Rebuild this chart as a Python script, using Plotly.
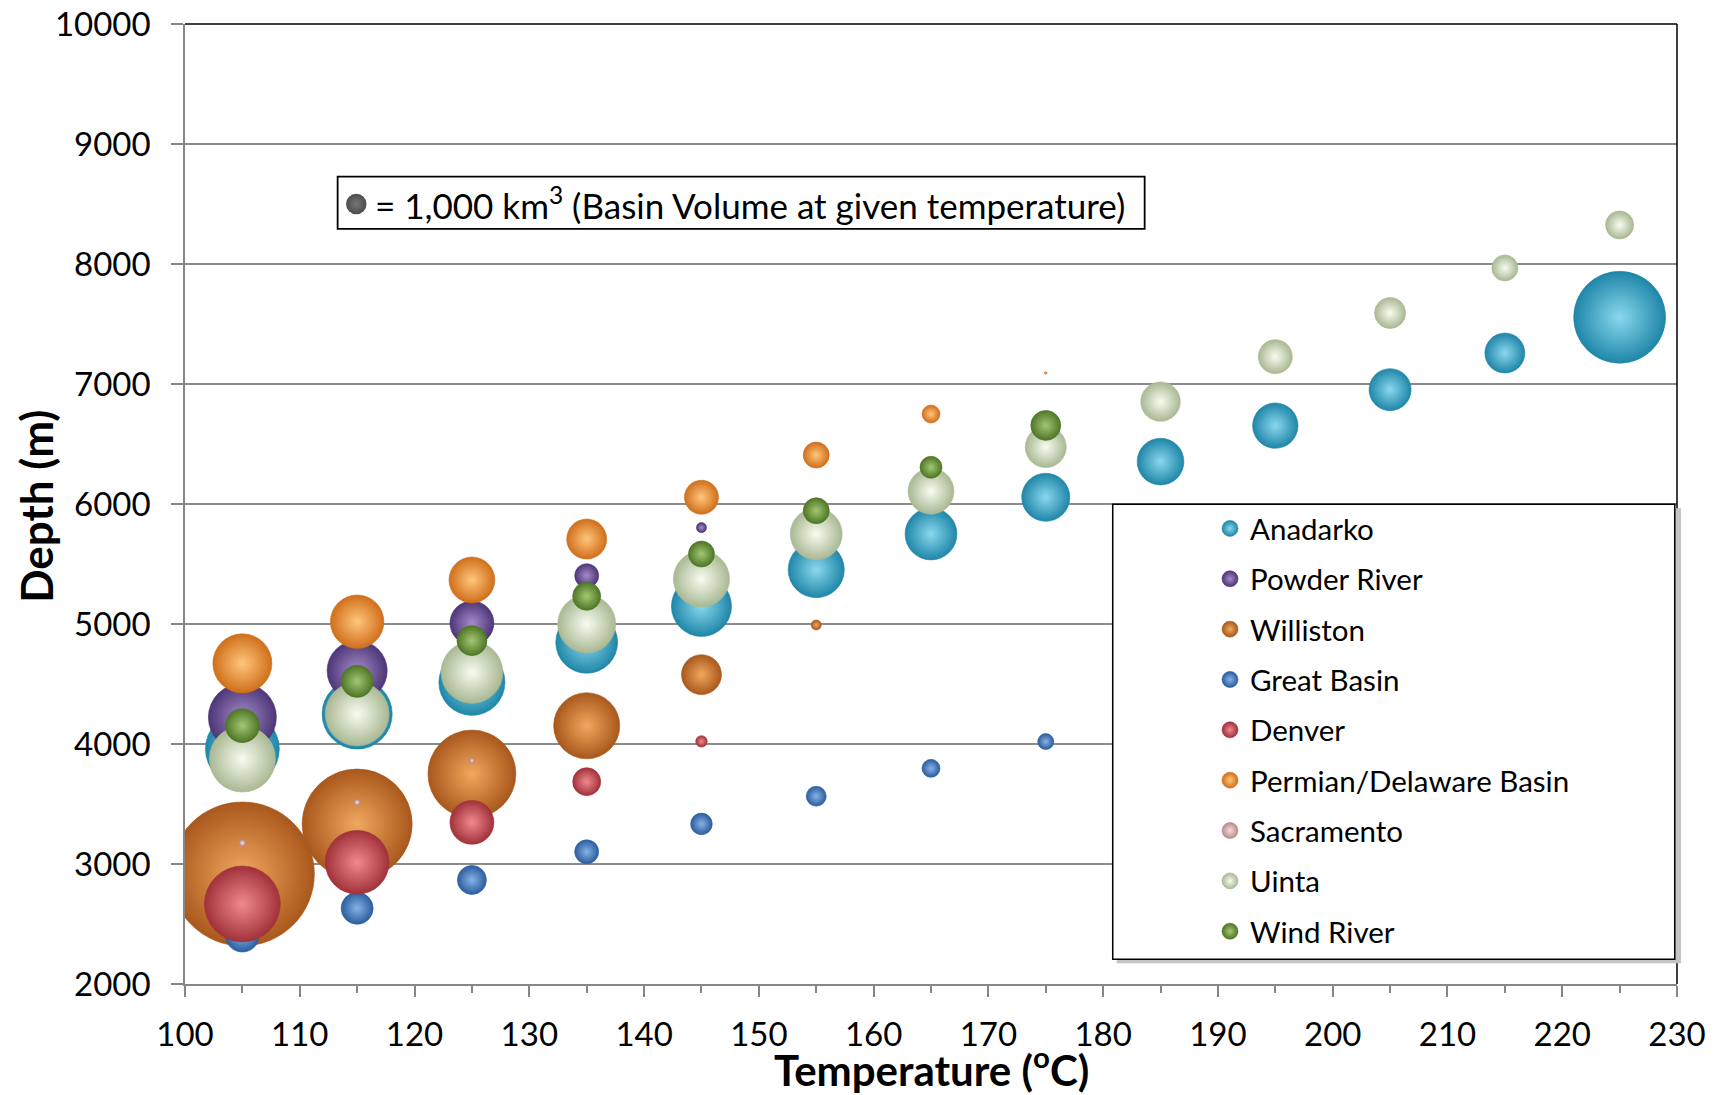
import plotly.graph_objects as go

# ---------------- data ----------------
TEMPS = [105, 115, 125, 135, 145, 155, 165, 175, 185, 195, 205, 215, 225]

SERIES = ["Anadarko", "Powder River", "Williston", "Great Basin", "Denver",
          "Permian/Delaware Basin", "Sacramento", "Uinta", "Wind River"]

anadarko_depth = [3958, 4250, 4514, 4847, 5147, 5453, 5750, 6056, 6353, 6653, 6953, 7258, 7556]
anadarko_vol = [13000, 11700, 10400, 9100, 8600, 7500, 6400, 5500, 5200, 4900, 4200, 3800, 20100]

powder_depth = [4222, 4611, 5008, 5403, 5803]
powder_vol = [11000, 8600, 4600, 1370, 240]

williston_depth = [2917, 3333, 3750, 4152, 4578, 4992]
williston_vol = [49300, 28800, 18400, 10400, 3800, 240]

greatbasin_depth = [2408, 2631, 2867, 3102, 3334, 3565, 3797, 4020]
greatbasin_vol = [2750, 2440, 2000, 1370, 1110, 950, 770, 610]

denver_depth = [2667, 3014, 3347, 3686, 4022]
denver_vol = [13700, 9700, 4600, 1870, 310]

permian_depth = [4672, 5019, 5367, 5708, 6056, 6408, 6750, 7092]
permian_vol = [8300, 6800, 5000, 3800, 2750, 1610, 770, 15]

sacramento_depth = [3175, 3514, 3861]
sacramento_vol = [104, 86, 60]

uinta_depth = [3875, 4250, 4597, 5000, 5375, 5750, 6106, 6475, 6853, 7228, 7592, 7967, 8325]
uinta_vol = [10400, 9700, 9100, 8000, 7500, 6400, 5000, 4000, 3700, 2750, 2290, 1610, 1870]

windriver_depth = [4153, 4522, 4861, 5231, 5583, 5944, 6306, 6655]
windriver_vol = [2750, 2440, 2140, 1870, 1610, 1610, 1150, 2140]

DEPTHS = [anadarko_depth, powder_depth, williston_depth, greatbasin_depth, denver_depth,
          permian_depth, sacramento_depth, uinta_depth, windriver_depth]
VOLUMES = [anadarko_vol, powder_vol, williston_vol, greatbasin_vol, denver_vol,
           permian_vol, sacramento_vol, uinta_vol, windriver_vol]

KEY_VOLUME = 1000  # km3 reference bubble
X_TICKS = list(range(100, 231, 10))
Y_TICKS = list(range(2000, 10001, 1000))
X_LABELS = [str(v) for v in X_TICKS]
Y_LABELS = [str(v) for v in Y_TICKS]

# ---------------- style ----------------
# (edge colour, highlight colour) per series
COLORS = [
    ("#1f86a8", "#8ad8ee"),  # Anadarko
    ("#4e3577", "#a48cc8"),  # Powder River
    ("#a9581c", "#f0a85e"),  # Williston
    ("#2b5d9e", "#86b2e6"),  # Great Basin
    ("#a1313a", "#f08a8f"),  # Denver
    ("#d06f1c", "#ffc67a"),  # Permian
    ("#b98a8e", "#f6dcdd"),  # Sacramento
    ("#a9b893", "#f8fcf0"),  # Uinta
    ("#4f7626", "#a2c873"),  # Wind River
]
FONT = "Lato, 'Open Sans', sans-serif"
KEY_DIAM_PX = 20.5
# plotly area mode: diameter = 2*sqrt(v / (2*sizeref))
SIZEREF = 2.0 * KEY_VOLUME / KEY_DIAM_PX ** 2

fig = go.Figure()
for name, ys, vols, (edge, hi) in zip(SERIES, DEPTHS, VOLUMES, COLORS):
    fig.add_trace(go.Scatter(
        x=TEMPS[:len(ys)], y=ys, mode="markers", name=name, legendgroup=name,
        marker=dict(size=vols, sizemode="area", sizeref=SIZEREF, sizemin=0,
                    color=edge, opacity=1,
                    gradient=dict(type="radial", color=hi),
                    line=dict(width=0.6, color=edge)),
        hoverinfo="x+y+name",
    ))

# key bubble (1,000 km3) on an overlay paper-like axis
KEY_POS = (0.1148, 0.8125)
fig.add_trace(go.Scatter(
    x=[KEY_POS[0]], y=[KEY_POS[1]], xaxis="x2", yaxis="y2", mode="markers",
    showlegend=False, hoverinfo="skip",
    marker=dict(size=[KEY_VOLUME], sizemode="area", sizeref=SIZEREF,
                color="#000000", gradient=dict(type="radial", color="#3c3c3c"),
                line=dict(width=0)),
))

GRID = "#8c8c8c"
AXIS = "#868686"

fig.update_layout(
    width=1719, height=1095,
    margin=dict(l=185, r=42, t=24, b=111, autoexpand=False),
    paper_bgcolor="white", plot_bgcolor="white",
    font=dict(family=FONT, color="black", size=33),
    xaxis=dict(range=[100, 230], tickvals=X_TICKS, ticktext=X_LABELS, showgrid=False,
               zeroline=False, automargin=False, ticklabeloverflow="allow",
               showline=True, linecolor=AXIS, linewidth=1.5,
               ticks="outside", ticklen=11, tickwidth=1.5, tickcolor=AXIS,
               minor=dict(ticks="outside", ticklen=7, tickwidth=1.5, tickcolor=AXIS,
                          dtick=5, tick0=100, showgrid=False),
               tickfont=dict(size=33, family=FONT), ticklabelstandoff=10),
    yaxis=dict(range=[2000, 10000], tickvals=Y_TICKS, ticktext=Y_LABELS, showgrid=True,
               gridcolor=GRID, automargin=False, ticklabeloverflow="allow",
               gridwidth=1.5, zeroline=False, showline=True, linecolor=AXIS, linewidth=1.5,
               ticks="outside", ticklen=12, tickwidth=1.5, tickcolor=AXIS,
               tickfont=dict(size=33, family=FONT), ticklabelstandoff=14),
    xaxis2=dict(overlaying="x", range=[0, 1], visible=False, fixedrange=True),
    yaxis2=dict(overlaying="y", range=[0, 1], visible=False, fixedrange=True),
    showlegend=True,
    legend=dict(x=0.687, y=0.5013, xanchor="left", yanchor="top",
                bgcolor="rgba(0,0,0,0)", borderwidth=0,
                font=dict(size=29.5, family=FONT), traceorder="grouped",
                tracegroupgap=9, itemsizing="trace"),
    shapes=[
        # top and right frame lines
        dict(type="line", xref="x domain", yref="y domain", x0=0, x1=1, y0=1, y1=1,
             line=dict(color="black", width=1.5)),
        dict(type="line", xref="x domain", yref="y domain", x0=1, x1=1, y0=0, y1=1,
             line=dict(color="black", width=1.5)),
        # key box
        dict(type="rect", xref="x domain", yref="y domain", x0=0.1023, x1=0.6432,
             y0=0.7865, y1=0.8411, line=dict(color="black", width=1.8),
             fillcolor="white", layer="below"),
        # legend shadow + box
        dict(type="rect", xref="x domain", yref="y domain", x0=0.6245, x1=1.0027,
             y0=0.0215, y1=0.4955, line=dict(width=0), fillcolor="#c4c4c4", layer="above"),
        dict(type="rect", xref="x domain", yref="y domain", x0=0.6218, x1=0.9985,
             y0=0.0257, y1=0.4997, line=dict(color="black", width=1.5),
             fillcolor="white", layer="above"),
    ],
    annotations=[
        dict(xref="x domain", yref="y domain", x=0.1257, y=0.8138, xanchor="left",
             yanchor="middle", showarrow=False,
             text="= 1,000 km<sup>3</sup> (Basin Volume at given temperature)",
             font=dict(size=35, family=FONT, color="black")),
        # axis titles
        dict(xref="paper", yref="paper", x=0.5, y=-0.0862, xanchor="center",
             yanchor="middle", showarrow=False,
             text="<b>Temperature (<sup>o</sup>C)</b>",
             font=dict(size=42, family=FONT, color="black")),
        dict(xref="paper", yref="paper", x=-0.0999, y=0.498, xanchor="center",
             yanchor="middle", showarrow=False, textangle=-90,
             text="<b>Depth (m)</b>",
             font=dict(size=44, family=FONT, color="black")),
    ],
)

fig.write_html("out.html", config={"displayModeBar": False},
               post_script="document.body.style.margin='0';")
